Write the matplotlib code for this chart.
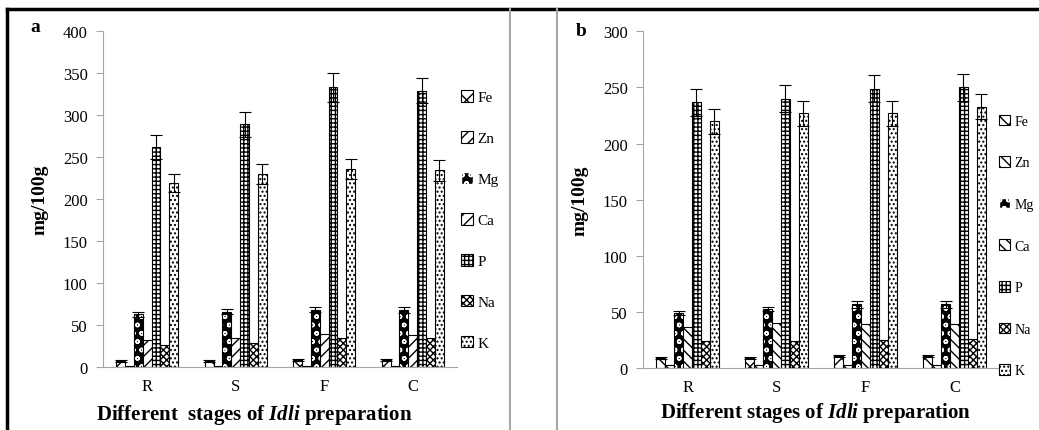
import matplotlib.pyplot as plt
from matplotlib.lines import Line2D
from matplotlib.patches import Patch
import numpy as np

plt.rcParams['font.family'] = ['Liberation Serif', 'DejaVu Serif']
plt.rcParams['mathtext.fontset'] = 'custom'
plt.rcParams['mathtext.rm'] = 'Liberation Serif:bold'
plt.rcParams['mathtext.bfit'] = 'Liberation Serif:italic:bold'
plt.rcParams['hatch.linewidth'] = 1.0

stages = ['R', 'S', 'F', 'C']
minerals = ['Fe', 'Zn', 'Mg', 'Ca', 'P', 'Na', 'K']

# panel a values (mg/100g)
a_vals = {
    'Fe': [7.5, 7.5, 8.5, 8.5],
    'Zn': [1.5, 1.5, 1.5, 1.5],
    'Mg': [63, 66, 68, 68],
    'Ca': [32, 35, 39, 38],
    'P': [262, 289, 333, 329],
    'Na': [26, 29, 34, 34],
    'K': [219, 230, 236, 234],
}
a_err = {
    'Fe': [1, 1, 1, 1],
    'Mg': [3, 3, 3, 4],
    'P': [14, 15, 17, 15],
    'K': [11, 12, 12, 12],
}

# panel b values (mg/100g)
b_vals = {
    'Fe': [9, 9, 11, 11],
    'Zn': [3, 3, 3, 3],
    'Mg': [49, 53, 57, 57],
    'Ca': [37, 40, 39, 39],
    'P': [237, 240, 249, 250],
    'Na': [24.5, 24.5, 25.5, 26],
    'K': [220, 227, 227, 233],
}
b_err = {
    'Fe': [1, 1, 1, 1],
    'Mg': [2, 2, 3, 3],
    'P': [12, 12, 12, 12],
    'K': [11, 11, 11, 11],
}

hatch_a = {'Fe': 'xx', 'Zn': '///', 'Mg': 'oo', 'Ca': '///', 'P': '++++', 'Na': 'xxxxx', 'K': '....'}
hatch_b = {'Fe': 'xx', 'Zn': '\\\\\\', 'Mg': 'oo', 'Ca': '\\\\\\', 'P': '++++', 'Na': 'xxxxx', 'K': '....'}

grey = '#a6a6a6'
fig = plt.figure(figsize=(10.39, 4.31), dpi=100)


def draw_panel(rect, vals, errs, hatches, ymax, step):
    ax = fig.add_axes(rect)
    x = np.arange(len(stages))
    w = 0.1
    handles = []
    for i, m in enumerate(minerals):
        pos = x + (i - 3) * w
        if m == 'Mg':
            # dark bar with white circles
            ax.bar(pos, vals[m], w, color='black', edgecolor='white', hatch=hatches[m], linewidth=0)
            ax.bar(pos, vals[m], w, fill=False, edgecolor='black', linewidth=0.8)
            h = Patch(facecolor='black', edgecolor='white', hatch='oo')
        else:
            ax.bar(pos, vals[m], w, color='white', edgecolor='black', hatch=hatches[m], linewidth=0.8)
            h = Patch(facecolor='white', edgecolor='black', hatch=hatches[m], linewidth=0.8)
        if m in errs:
            ax.errorbar(pos, vals[m], yerr=errs[m], fmt='none', ecolor='black',
                        elinewidth=0.8, capsize=4, capthick=0.8)
        handles.append(h)
    ax.set_xlim(-0.5, 3.5)
    ax.set_ylim(0, ymax)
    ax.set_yticks(np.arange(0, ymax + 1, step))
    ax.set_xticks(x)
    ax.set_xticklabels(stages)
    for s in ['top', 'right']:
        ax.spines[s].set_visible(False)
    for s in ['left', 'bottom']:
        ax.spines[s].set_color(grey)
    ax.tick_params(axis='y', length=5, color=grey, labelsize=12, pad=6)
    ax.tick_params(axis='x', length=0, labelsize=12, pad=8)
    ax.set_ylabel('mg/100g', fontsize=14, fontweight='bold', labelpad=10)
    return ax, handles


ax_a, h_a = draw_panel([0.0991, 0.1462, 0.3407, 0.7796], a_vals, a_err, hatch_a, 400, 50)
ax_b, h_b = draw_panel([0.6189, 0.1432, 0.3426, 0.7818], b_vals, b_err, hatch_b, 300, 50)

leg_kw = dict(frameon=False, fontsize=11, handlelength=0.8, handleheight=0.8,
              handletextpad=0.3, labelspacing=1.75, borderpad=0)
fig.legend(h_a, minerals, loc='center left', bbox_to_anchor=(453 / 1039, 1 - 221 / 431), **leg_kw)
fig.legend(h_b, minerals, loc='center left', bbox_to_anchor=(992 / 1039, 1 - 247 / 431),
           **{**leg_kw, 'fontsize': 10, 'labelspacing': 2.05})

# x labels with italic Idli
fig.text(254 / 1039, 1 - 415 / 431, r'Different  stages of $\mathbfit{Idli}$ preparation',
         fontsize=15, fontweight='bold', ha='center', va='center')
fig.text(816 / 1039, 1 - 413 / 431, r'Different stages of $\mathbfit{Idli}$ preparation',
         fontsize=15, fontweight='bold', ha='center', va='center')

# panel letters
fig.text(35 / 1039, 1 - 27 / 431, 'a', fontsize=14, fontweight='bold', ha='center', va='center')
fig.text(581 / 1039, 1 - 32 / 431, 'b', fontsize=14, fontweight='bold', ha='center', va='center')

# frame lines
fy = 1 - 10 / 431
fig.add_artist(Line2D([7 / 1039, 1038 / 1039], [fy, fy], color='black', lw=2.5))
fig.add_artist(Line2D([7 / 1039, 7 / 1039], [0, fy], color='black', lw=2.5))
fig.add_artist(Line2D([510 / 1039, 510 / 1039], [0, fy], color=grey, lw=1.5))
fig.add_artist(Line2D([557 / 1039, 557 / 1039], [0, fy], color=grey, lw=1.5))

fig.savefig('out.png', dpi=100)
